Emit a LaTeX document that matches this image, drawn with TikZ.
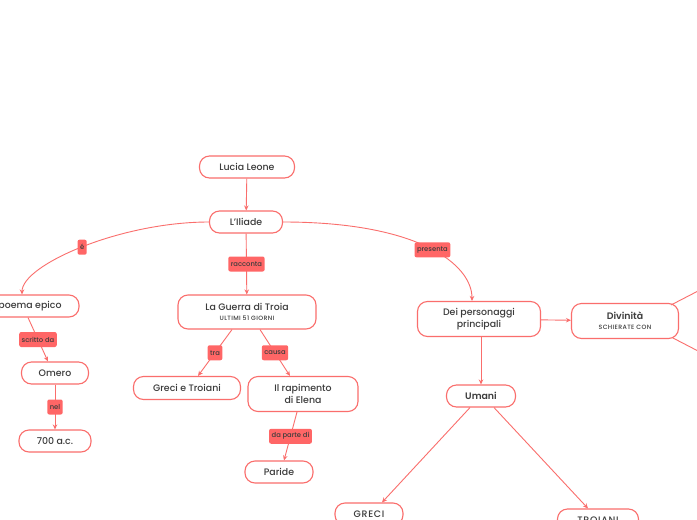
\documentclass[tikz,border=0pt]{standalone}
\usepackage{fontspec}
\setmainfont{Poppins}[UprightFont={* Medium}, BoldFont={* SemiBold}]
\usetikzlibrary{arrows.meta}
\definecolor{edge}{RGB}{250,110,108}
\definecolor{lab}{RGB}{255,102,102}
\definecolor{txt}{RGB}{60,60,60}
\newcommand\subsz{\fontsize{6.2}{7}\selectfont\addfontfeatures{LetterSpace=6}}
\newcommand\capsp{\addfontfeatures{LetterSpace=8}}
\tikzset{
  box/.style={draw=edge, line width=1.1pt, rounded corners=10pt, fill=white, text=txt,
    font=\fontsize{9.4}{12}\selectfont, align=center, inner sep=2pt},
  lbl/.style={fill=lab, rounded corners=2pt, text=txt, font=\fontsize{6.8}{8}\selectfont, inner sep=2.5pt, minimum height=15pt},
  conn/.style={draw=edge, line width=0.9pt},
  arr/.style={conn, -{Stealth[length=5pt,width=4.5pt]}}
}
\begin{document}
\begin{tikzpicture}[x=1pt,y=-1pt]
\useasboundingbox (0,0) rectangle (697,520);
\clip (0,0) rectangle (697,520);
\fill[white] (0,0) rectangle (697,520);
% nodes
\node[box, minimum width=95pt, minimum height=22pt] (lucia) at (247,167) {Lucia Leone};
\node[box, minimum width=73pt, minimum height=22pt] (iliade) at (246,222) {L'Iliade};
\node[box, minimum width=98pt, minimum height=22pt] (poema) at (30,306) {poema epico};
\node[box, minimum width=67pt, minimum height=22pt] (omero) at (55,373) {Omero};
\node[box, minimum width=72pt, minimum height=22pt] (anno) at (55,441) {700 a.c.};
\node[box, minimum width=138pt, minimum height=34pt] (guerra) at (247,312) {La Guerra di Troia\\[-2pt]{\subsz ULTIMI 51 GIORNI}};
\node[box, minimum width=107pt, minimum height=23pt] (greciet) at (187,388) {Greci e Troiani};
\node[box, minimum width=110pt, minimum height=35pt] (rapimento) at (303,394) {Il rapimento\\di Elena};
\node[box, minimum width=68pt, minimum height=22pt] (paride) at (279,472) {Paride};
\node[box, minimum width=123pt, minimum height=35pt] (dei) at (479,319) {Dei personaggi\\principali};
\node[box, minimum width=107pt, minimum height=35pt] (divinita) at (625,321) {\textbf{Divinità}\\[-2pt]{\subsz SCHIERATE CON}};
\node[box, minimum width=69pt, minimum height=22pt] (umani) at (481,396) {\textbf{Umani}};
\node[box, minimum width=68pt, minimum height=22pt] (greci) at (369,514) {{\capsp GRECI}};
\node[box, minimum width=81pt, minimum height=22pt] (troiani) at (598,520) {{\capsp TROIANI}};
\coordinate (offA) at (700,290);
\coordinate (offB) at (700,352);
% connectors
\draw[arr] (lucia) -- (iliade);
\draw[arr] (iliade.west) .. controls (120,222) and (22,265) .. (poema.north -| 22,0) node[lbl, pos=0.5] {é};
\draw[arr] (iliade) -- (guerra) node[lbl, midway] {racconta};
\draw[arr] (iliade.east) .. controls (420,222) and (472,265) .. (dei.north -| 472,0) node[lbl, pos=0.52] {presenta};
\draw[arr] (poema.south -| 28,0) -- (omero.north -| 48,0) node[lbl, midway] {scritto da};
\draw[arr] (omero) -- (anno) node[lbl, midway] {nel};
\draw[arr] (guerra.south -| 232,0) -- (greciet.north -| 198,0) node[lbl, midway] {tra};
\draw[arr] (guerra.south -| 260,0) -- (rapimento.north -| 290,0) node[lbl, midway] {causa};
\draw[arr] (rapimento.south -| 297,0) -- (paride.north -| 284,0) node[lbl, midway] {da parte di};
\draw[arr] (dei) -- (divinita);
\draw[arr] (dei.south -| 481,0) -- (umani);
\draw[arr] (umani.south -| 470,0) -- (greci.north -| 382,0);
\draw[arr] (umani.south -| 494,0) -- (troiani.north -| 588,0);
\draw[conn] (divinita.north east) ++(-8,2) -- (offA);
\draw[conn] (divinita.south east) ++(-6,-1) -- (offB);
\end{tikzpicture}
\end{document}
